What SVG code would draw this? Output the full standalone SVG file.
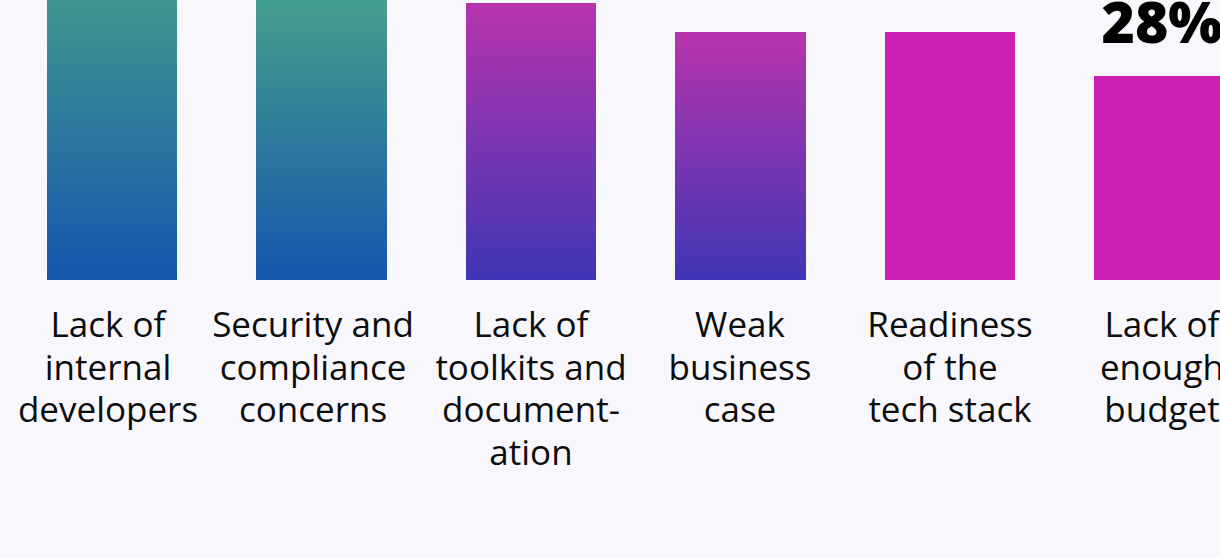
<svg xmlns="http://www.w3.org/2000/svg" width="1220" height="558" viewBox="0 0 1220 558">
<defs>
<linearGradient id="gTeal" x1="0" y1="0" x2="0" y2="1">
<stop offset="0" stop-color="#48a48a"/>
<stop offset="1" stop-color="#1656ad"/>
</linearGradient>
<linearGradient id="gPurple" x1="0" y1="0" x2="0" y2="1">
<stop offset="0" stop-color="#b834ad"/>
<stop offset="1" stop-color="#3f36b5"/>
</linearGradient>
<style>
.lbl{font-family:"Open Sans","Noto Sans",sans-serif;font-size:35px;fill:#0d0d0d;text-anchor:middle}
.val{font-family:"Open Sans","Noto Sans",sans-serif;font-size:57px;font-weight:800;fill:#000;text-anchor:middle}
.solid{fill:#cc20b4}
</style>
</defs>
<rect x="0" y="0" width="1220" height="558" fill="#f7f7fc"/>
<g id="bar1">
<rect x="47" y="-60" width="130" height="340" fill="url(#gTeal)"/>
<text class="lbl" x="108" y="337">Lack of</text>
<text class="lbl" x="108" y="380">internal</text>
<text class="lbl" x="108" y="422">developers</text>
</g>
<g id="bar2">
<rect x="256" y="-20" width="131" height="300" fill="url(#gTeal)"/>
<text class="lbl" x="313" y="337">Security and</text>
<text class="lbl" x="313" y="380">compliance</text>
<text class="lbl" x="313" y="422">concerns</text>
</g>
<g id="bar3">
<rect x="466" y="3" width="130" height="277" fill="url(#gPurple)"/>
<text class="lbl" x="531" y="337">Lack of</text>
<text class="lbl" x="531" y="380">toolkits and</text>
<text class="lbl" x="531" y="422">document-</text>
<text class="lbl" x="531" y="465">ation</text>
</g>
<g id="bar4">
<rect x="675" y="32" width="131" height="248" fill="url(#gPurple)"/>
<text class="lbl" x="740" y="337">Weak</text>
<text class="lbl" x="740" y="380">business</text>
<text class="lbl" x="740" y="422">case</text>
</g>
<g id="bar5">
<rect class="solid" x="885" y="32" width="130" height="248"/>
<text class="lbl" x="950" y="337">Readiness</text>
<text class="lbl" x="950" y="380">of the</text>
<text class="lbl" x="950" y="422">tech stack</text>
</g>
<g id="bar6">
<rect class="solid" x="1094" y="76" width="131" height="204"/>
<text class="val" x="1162" y="43">28%</text>
<text class="lbl" x="1162" y="337">Lack of</text>
<text class="lbl" x="1162" y="380">enough</text>
<text class="lbl" x="1162" y="422">budget</text>
</g>
<g id="connectors"/>
</svg>
